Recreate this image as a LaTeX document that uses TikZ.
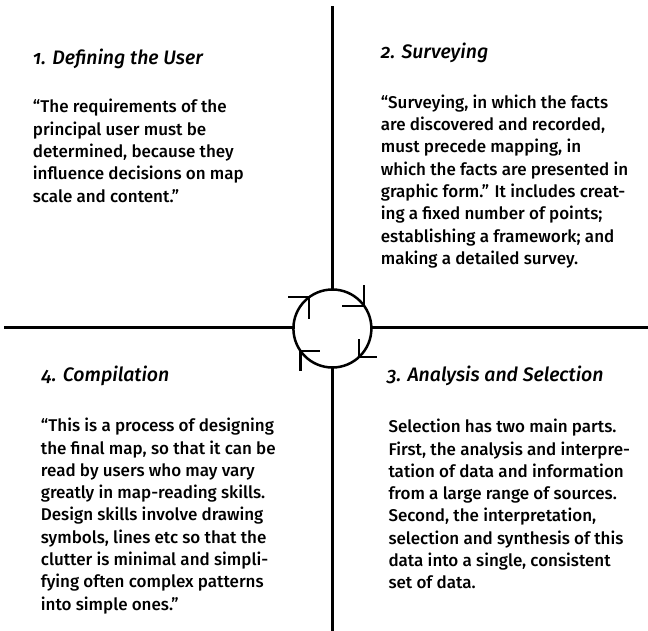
\documentclass[tikz,border=0pt]{standalone}
\usepackage{fontspec}
\setmainfont{Fira Sans}[Numbers=OldStyle]
\IfFontExistsTF{Fira Sans Medium}
	{\newfontfamily\quotefont{Fira Sans Medium}[Numbers=OldStyle]}
	{\IfFontExistsTF{Fira Sans SemiBold}
		{\newfontfamily\quotefont{Fira Sans SemiBold}[Numbers=OldStyle]}
		{\newfontfamily\quotefont{Fira Sans}[Numbers=OldStyle]}}

\begin{document}
\begin{tikzpicture}[x=1pt,y=-1pt,line cap=rect]
	\tikzstyle{head}=[anchor=base west, inner sep=0pt, font=\quotefont\fontsize{19.5}{22}\selectfont\itshape]
	% base of a body block sits on its last line
	\tikzstyle{body}=[anchor=base west, inner sep=0pt, align=left, font=\quotefont\fontsize{17}{22.3}\selectfont]
	\tikzstyle{axis}=[draw=black, line width=2.5pt]
	\tikzstyle{barb}=[draw=black, line width=2.2pt]
	
	\def \cx{332.4}
	\def \cy{328.5}
	
	\useasboundingbox (0,0) rectangle (648,630);
	
	% hub and the cross
	\node[circle, draw=black, line width=2.5pt, outer sep=0pt, minimum size=78pt] (hub) at (\cx,\cy) {};
	\coordinate (top)    at (\cx,7);
	\coordinate (bottom) at (\cx,630);
	\coordinate (left)   at (5,327.3);
	\coordinate (right)  at (648,327.3);
	\draw[axis] (hub.north) -- (top);
	\draw[axis] (hub.south) -- (bottom);
	\draw[axis] (hub.west |- left) -- (left);
	\draw[axis] (hub.east |- right) -- (right);
	
	% open heads running round the hub
	\draw[barb] ([xshift=-20pt]hub.127) -- (hub.127) -- ++(0,21);
	\draw[barb] ([yshift=20pt]hub.35) -- (hub.35) -- ++(-21,0);
	\draw[barb] ([yshift=17pt]hub.-47) -- (hub.-47) -- ++(17,0);
	\draw[barb] ([xshift=18pt]hub.215) -- (hub.215) -- ++(0,19);
	
	\node[head] (h1) at (32.7,64)  {1. Defining the User};
	\node[head] (h2) at (380.7,58) {2. Surveying};
	\node[head] (h3) at (386.7,381.7) {3. Analysis and Selection};
	\node[head] (h4) at (41.5,381.7) {4. Compilation};
	
	\node[body] (b1) at (32.7,202) {“The requirements of the\\ principal user must be\\ determined, because they\\ influence decisions on map\\ scale and content.”};
	\node[body] (b2) at (380.7,264.4) {“Surveying, in which the facts\\ are discovered and recorded,\\ must precede mapping, in\\ which the facts are presented in\\ graphic form.” It includes creat-\\ ing a fixed number of points;\\ establishing a framework; and\\ making a detailed survey.};
	\node[body] (b3) at (388.3,588.8) {Selection has two main parts.\\ First, the analysis and interpre-\\ tation of data and information\\ from a large range of sources.\\ Second, the interpretation,\\ selection and synthesis of this\\ data into a single, consistent\\ set of data.};
	\node[body] (b4) at (40.7,610.1) {“This is a process of designing\\ the final map, so that it can be\\ read by users who may vary\\ greatly in map-reading skills.\\ Design skills involve drawing\\ symbols, lines etc so that the\\ clutter is minimal and simpli-\\ fying often complex patterns\\ into simple ones.”};
\end{tikzpicture}
\end{document}
